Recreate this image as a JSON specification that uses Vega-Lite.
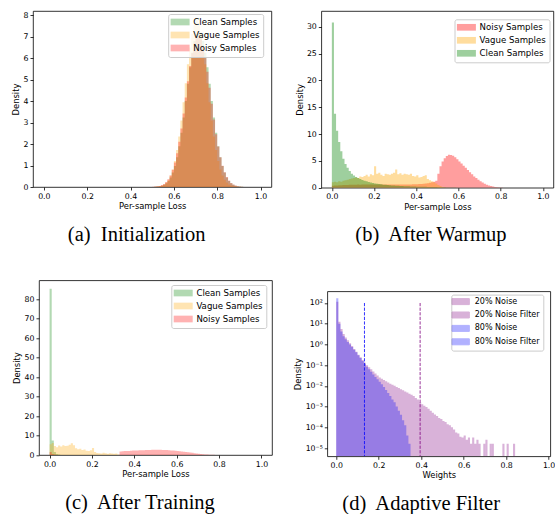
{
"$schema":"https://vega.github.io/schema/vega-lite/v6.json",
"background":"white",
"padding":{"left":11,"top":10,"right":0,"bottom":0},
"config":{
 "font":"DejaVu Sans",
 "view":{"stroke":"black","strokeWidth":0.8},
 "axis":{"domain":false,"grid":false,"tickSize":3,"tickWidth":0.8,"tickColor":"black","labelColor":"black","labelFont":"DejaVu Sans","labelFontSize":7.8,"labelPadding":2,"titleFont":"DejaVu Sans","titleFontSize":8.4,"titleFontWeight":"normal","titleColor":"black"},
 "legend":{"title":null,"orient":"none","labelFont":"DejaVu Sans","labelColor":"black","labelLimit":300,"fillColor":"rgba(255,255,255,0.8)","strokeColor":"#cccccc","cornerRadius":2,"symbolType":"M-2.883,-1H2.883V1H-2.883Z"},
 "title":{"font":"Liberation Serif","fontSize":20.5,"fontWeight":"normal","color":"black"}
},
"datasets":{
"a":[
{"s":"Clean Samples","x":0.50,"d":0.005},{"s":"Clean Samples","x":0.51,"d":0.01},{"s":"Clean Samples","x":0.52,"d":0.02},{"s":"Clean Samples","x":0.53,"d":0.03},{"s":"Clean Samples","x":0.54,"d":0.06},{"s":"Clean Samples","x":0.55,"d":0.11},{"s":"Clean Samples","x":0.56,"d":0.18},{"s":"Clean Samples","x":0.57,"d":0.28},{"s":"Clean Samples","x":0.58,"d":0.44},{"s":"Clean Samples","x":0.59,"d":0.67},{"s":"Clean Samples","x":0.60,"d":0.98},{"s":"Clean Samples","x":0.61,"d":1.39},{"s":"Clean Samples","x":0.62,"d":1.9},{"s":"Clean Samples","x":0.63,"d":2.52},{"s":"Clean Samples","x":0.64,"d":3.23},{"s":"Clean Samples","x":0.65,"d":4.0},{"s":"Clean Samples","x":0.66,"d":4.8},{"s":"Clean Samples","x":0.67,"d":5.57},{"s":"Clean Samples","x":0.68,"d":6.25},{"s":"Clean Samples","x":0.69,"d":6.79},{"s":"Clean Samples","x":0.70,"d":7.13},{"s":"Clean Samples","x":0.71,"d":7.25},{"s":"Clean Samples","x":0.72,"d":7.13},{"s":"Clean Samples","x":0.73,"d":6.79},{"s":"Clean Samples","x":0.74,"d":6.25},{"s":"Clean Samples","x":0.75,"d":5.57},{"s":"Clean Samples","x":0.76,"d":4.8},{"s":"Clean Samples","x":0.77,"d":4.0},{"s":"Clean Samples","x":0.78,"d":3.23},{"s":"Clean Samples","x":0.79,"d":2.52},{"s":"Clean Samples","x":0.80,"d":1.9},{"s":"Clean Samples","x":0.81,"d":1.39},{"s":"Clean Samples","x":0.82,"d":0.98},{"s":"Clean Samples","x":0.83,"d":0.67},{"s":"Clean Samples","x":0.84,"d":0.44},{"s":"Clean Samples","x":0.85,"d":0.28},{"s":"Clean Samples","x":0.86,"d":0.18},{"s":"Clean Samples","x":0.87,"d":0.11},{"s":"Clean Samples","x":0.88,"d":0.06},{"s":"Clean Samples","x":0.89,"d":0.03},{"s":"Clean Samples","x":0.90,"d":0.02},{"s":"Clean Samples","x":0.91,"d":0.01},{"s":"Clean Samples","x":0.92,"d":0},
{"s":"Vague Samples","x":0.50,"d":0.005},{"s":"Vague Samples","x":0.51,"d":0.01},{"s":"Vague Samples","x":0.52,"d":0.02},{"s":"Vague Samples","x":0.53,"d":0.04},{"s":"Vague Samples","x":0.54,"d":0.07},{"s":"Vague Samples","x":0.55,"d":0.12},{"s":"Vague Samples","x":0.56,"d":0.21},{"s":"Vague Samples","x":0.57,"d":0.34},{"s":"Vague Samples","x":0.58,"d":0.54},{"s":"Vague Samples","x":0.59,"d":0.82},{"s":"Vague Samples","x":0.60,"d":1.21},{"s":"Vague Samples","x":0.61,"d":1.72},{"s":"Vague Samples","x":0.62,"d":2.35},{"s":"Vague Samples","x":0.63,"d":3.1},{"s":"Vague Samples","x":0.64,"d":3.94},{"s":"Vague Samples","x":0.65,"d":4.83},{"s":"Vague Samples","x":0.66,"d":5.71},{"s":"Vague Samples","x":0.67,"d":6.49},{"s":"Vague Samples","x":0.68,"d":7.12},{"s":"Vague Samples","x":0.69,"d":7.53},{"s":"Vague Samples","x":0.70,"d":7.8},{"s":"Vague Samples","x":0.71,"d":7.53},{"s":"Vague Samples","x":0.72,"d":7.12},{"s":"Vague Samples","x":0.73,"d":6.49},{"s":"Vague Samples","x":0.74,"d":5.71},{"s":"Vague Samples","x":0.75,"d":4.83},{"s":"Vague Samples","x":0.76,"d":3.94},{"s":"Vague Samples","x":0.77,"d":3.1},{"s":"Vague Samples","x":0.78,"d":2.35},{"s":"Vague Samples","x":0.79,"d":1.72},{"s":"Vague Samples","x":0.80,"d":1.21},{"s":"Vague Samples","x":0.81,"d":0.82},{"s":"Vague Samples","x":0.82,"d":0.54},{"s":"Vague Samples","x":0.83,"d":0.34},{"s":"Vague Samples","x":0.84,"d":0.21},{"s":"Vague Samples","x":0.85,"d":0.12},{"s":"Vague Samples","x":0.86,"d":0.07},{"s":"Vague Samples","x":0.87,"d":0.04},{"s":"Vague Samples","x":0.88,"d":0.02},{"s":"Vague Samples","x":0.89,"d":0.01},{"s":"Vague Samples","x":0.90,"d":0.005},{"s":"Vague Samples","x":0.91,"d":0},
{"s":"Noisy Samples","x":0.50,"d":0.01},{"s":"Noisy Samples","x":0.51,"d":0.02},{"s":"Noisy Samples","x":0.52,"d":0.03},{"s":"Noisy Samples","x":0.53,"d":0.05},{"s":"Noisy Samples","x":0.54,"d":0.09},{"s":"Noisy Samples","x":0.55,"d":0.14},{"s":"Noisy Samples","x":0.56,"d":0.23},{"s":"Noisy Samples","x":0.57,"d":0.36},{"s":"Noisy Samples","x":0.58,"d":0.54},{"s":"Noisy Samples","x":0.59,"d":0.8},{"s":"Noisy Samples","x":0.60,"d":1.14},{"s":"Noisy Samples","x":0.61,"d":1.57},{"s":"Noisy Samples","x":0.62,"d":2.1},{"s":"Noisy Samples","x":0.63,"d":2.72},{"s":"Noisy Samples","x":0.64,"d":3.42},{"s":"Noisy Samples","x":0.65,"d":4.17},{"s":"Noisy Samples","x":0.66,"d":4.92},{"s":"Noisy Samples","x":0.67,"d":5.63},{"s":"Noisy Samples","x":0.68,"d":6.24},{"s":"Noisy Samples","x":0.69,"d":6.71},{"s":"Noisy Samples","x":0.70,"d":6.99},{"s":"Noisy Samples","x":0.71,"d":7.06},{"s":"Noisy Samples","x":0.72,"d":6.9},{"s":"Noisy Samples","x":0.73,"d":6.55},{"s":"Noisy Samples","x":0.74,"d":6.02},{"s":"Noisy Samples","x":0.75,"d":5.36},{"s":"Noisy Samples","x":0.76,"d":4.62},{"s":"Noisy Samples","x":0.77,"d":3.87},{"s":"Noisy Samples","x":0.78,"d":3.14},{"s":"Noisy Samples","x":0.79,"d":2.46},{"s":"Noisy Samples","x":0.80,"d":1.88},{"s":"Noisy Samples","x":0.81,"d":1.39},{"s":"Noisy Samples","x":0.82,"d":0.99},{"s":"Noisy Samples","x":0.83,"d":0.69},{"s":"Noisy Samples","x":0.84,"d":0.46},{"s":"Noisy Samples","x":0.85,"d":0.3},{"s":"Noisy Samples","x":0.86,"d":0.19},{"s":"Noisy Samples","x":0.87,"d":0.12},{"s":"Noisy Samples","x":0.88,"d":0.07},{"s":"Noisy Samples","x":0.89,"d":0.04},{"s":"Noisy Samples","x":0.90,"d":0.02},{"s":"Noisy Samples","x":0.91,"d":0.01},{"s":"Noisy Samples","x":0.92,"d":0}
],
"b":[
{"s":"Noisy Samples","x":0.00,"d":0.35},{"s":"Noisy Samples","x":0.01,"d":0.4},{"s":"Noisy Samples","x":0.02,"d":0.4},{"s":"Noisy Samples","x":0.03,"d":0.45},{"s":"Noisy Samples","x":0.04,"d":0.45},{"s":"Noisy Samples","x":0.05,"d":0.5},{"s":"Noisy Samples","x":0.06,"d":0.5},{"s":"Noisy Samples","x":0.07,"d":0.5},{"s":"Noisy Samples","x":0.08,"d":0.55},{"s":"Noisy Samples","x":0.09,"d":0.55},{"s":"Noisy Samples","x":0.10,"d":0.55},{"s":"Noisy Samples","x":0.11,"d":0.55},{"s":"Noisy Samples","x":0.12,"d":0.6},{"s":"Noisy Samples","x":0.13,"d":0.55},{"s":"Noisy Samples","x":0.14,"d":0.6},{"s":"Noisy Samples","x":0.15,"d":0.6},{"s":"Noisy Samples","x":0.16,"d":0.6},{"s":"Noisy Samples","x":0.17,"d":0.6},{"s":"Noisy Samples","x":0.18,"d":0.6},{"s":"Noisy Samples","x":0.19,"d":0.6},{"s":"Noisy Samples","x":0.20,"d":0.6},{"s":"Noisy Samples","x":0.21,"d":0.6},{"s":"Noisy Samples","x":0.22,"d":0.6},{"s":"Noisy Samples","x":0.23,"d":0.6},{"s":"Noisy Samples","x":0.24,"d":0.6},{"s":"Noisy Samples","x":0.25,"d":0.6},{"s":"Noisy Samples","x":0.26,"d":0.6},{"s":"Noisy Samples","x":0.27,"d":0.6},{"s":"Noisy Samples","x":0.28,"d":0.6},{"s":"Noisy Samples","x":0.29,"d":0.6},{"s":"Noisy Samples","x":0.30,"d":0.6},{"s":"Noisy Samples","x":0.31,"d":0.6},{"s":"Noisy Samples","x":0.32,"d":0.6},{"s":"Noisy Samples","x":0.33,"d":0.6},{"s":"Noisy Samples","x":0.34,"d":0.6},{"s":"Noisy Samples","x":0.35,"d":0.6},{"s":"Noisy Samples","x":0.36,"d":0.6},{"s":"Noisy Samples","x":0.37,"d":0.6},{"s":"Noisy Samples","x":0.38,"d":0.65},{"s":"Noisy Samples","x":0.39,"d":0.65},{"s":"Noisy Samples","x":0.40,"d":0.65},{"s":"Noisy Samples","x":0.41,"d":0.7},{"s":"Noisy Samples","x":0.42,"d":0.7},{"s":"Noisy Samples","x":0.43,"d":0.75},{"s":"Noisy Samples","x":0.44,"d":0.8},{"s":"Noisy Samples","x":0.45,"d":0.85},{"s":"Noisy Samples","x":0.46,"d":0.9},{"s":"Noisy Samples","x":0.47,"d":1.0},{"s":"Noisy Samples","x":0.48,"d":1.1},{"s":"Noisy Samples","x":0.49,"d":1.3},{"s":"Noisy Samples","x":0.50,"d":2.6},{"s":"Noisy Samples","x":0.51,"d":4.0},{"s":"Noisy Samples","x":0.52,"d":4.9},{"s":"Noisy Samples","x":0.53,"d":5.5},{"s":"Noisy Samples","x":0.54,"d":5.9},{"s":"Noisy Samples","x":0.55,"d":6.15},{"s":"Noisy Samples","x":0.56,"d":6.1},{"s":"Noisy Samples","x":0.57,"d":5.95},{"s":"Noisy Samples","x":0.58,"d":5.65},{"s":"Noisy Samples","x":0.59,"d":5.3},{"s":"Noisy Samples","x":0.60,"d":4.9},{"s":"Noisy Samples","x":0.61,"d":4.5},{"s":"Noisy Samples","x":0.62,"d":4.1},{"s":"Noisy Samples","x":0.63,"d":3.7},{"s":"Noisy Samples","x":0.64,"d":3.3},{"s":"Noisy Samples","x":0.65,"d":2.9},{"s":"Noisy Samples","x":0.66,"d":2.5},{"s":"Noisy Samples","x":0.67,"d":2.1},{"s":"Noisy Samples","x":0.68,"d":1.8},{"s":"Noisy Samples","x":0.69,"d":1.5},{"s":"Noisy Samples","x":0.70,"d":1.2},{"s":"Noisy Samples","x":0.71,"d":0.95},{"s":"Noisy Samples","x":0.72,"d":0.75},{"s":"Noisy Samples","x":0.73,"d":0.57},{"s":"Noisy Samples","x":0.74,"d":0.42},{"s":"Noisy Samples","x":0.75,"d":0.3},{"s":"Noisy Samples","x":0.76,"d":0.21},{"s":"Noisy Samples","x":0.77,"d":0.14},{"s":"Noisy Samples","x":0.78,"d":0.09},{"s":"Noisy Samples","x":0.79,"d":0.05},{"s":"Noisy Samples","x":0.80,"d":0.03},{"s":"Noisy Samples","x":0.81,"d":0},
{"s":"Vague Samples","x":0.00,"d":1.0},{"s":"Vague Samples","x":0.01,"d":1.1},{"s":"Vague Samples","x":0.02,"d":1.0},{"s":"Vague Samples","x":0.03,"d":1.2},{"s":"Vague Samples","x":0.04,"d":1.1},{"s":"Vague Samples","x":0.05,"d":1.3},{"s":"Vague Samples","x":0.06,"d":1.4},{"s":"Vague Samples","x":0.07,"d":1.5},{"s":"Vague Samples","x":0.08,"d":1.6},{"s":"Vague Samples","x":0.09,"d":1.7},{"s":"Vague Samples","x":0.10,"d":1.8},{"s":"Vague Samples","x":0.11,"d":1.9},{"s":"Vague Samples","x":0.12,"d":1.8},{"s":"Vague Samples","x":0.13,"d":2.1},{"s":"Vague Samples","x":0.14,"d":2.0},{"s":"Vague Samples","x":0.15,"d":2.2},{"s":"Vague Samples","x":0.16,"d":2.4},{"s":"Vague Samples","x":0.17,"d":2.1},{"s":"Vague Samples","x":0.18,"d":2.5},{"s":"Vague Samples","x":0.19,"d":2.3},{"s":"Vague Samples","x":0.20,"d":4.0},{"s":"Vague Samples","x":0.21,"d":2.6},{"s":"Vague Samples","x":0.22,"d":2.8},{"s":"Vague Samples","x":0.23,"d":2.4},{"s":"Vague Samples","x":0.24,"d":2.2},{"s":"Vague Samples","x":0.25,"d":2.6},{"s":"Vague Samples","x":0.26,"d":2.5},{"s":"Vague Samples","x":0.27,"d":2.4},{"s":"Vague Samples","x":0.28,"d":2.6},{"s":"Vague Samples","x":0.29,"d":2.8},{"s":"Vague Samples","x":0.30,"d":3.4},{"s":"Vague Samples","x":0.31,"d":2.5},{"s":"Vague Samples","x":0.32,"d":2.7},{"s":"Vague Samples","x":0.33,"d":2.4},{"s":"Vague Samples","x":0.34,"d":2.6},{"s":"Vague Samples","x":0.35,"d":2.5},{"s":"Vague Samples","x":0.36,"d":2.4},{"s":"Vague Samples","x":0.37,"d":2.6},{"s":"Vague Samples","x":0.38,"d":2.2},{"s":"Vague Samples","x":0.39,"d":2.1},{"s":"Vague Samples","x":0.40,"d":2.3},{"s":"Vague Samples","x":0.41,"d":1.9},{"s":"Vague Samples","x":0.42,"d":2.0},{"s":"Vague Samples","x":0.43,"d":2.2},{"s":"Vague Samples","x":0.44,"d":2.3},{"s":"Vague Samples","x":0.45,"d":1.6},{"s":"Vague Samples","x":0.46,"d":1.4},{"s":"Vague Samples","x":0.47,"d":1.2},{"s":"Vague Samples","x":0.48,"d":1.0},{"s":"Vague Samples","x":0.49,"d":0.8},{"s":"Vague Samples","x":0.50,"d":0.5},{"s":"Vague Samples","x":0.51,"d":0.3},{"s":"Vague Samples","x":0.52,"d":0.15},{"s":"Vague Samples","x":0.53,"d":0.05},{"s":"Vague Samples","x":0.54,"d":0},
{"s":"Clean Samples","x":0.00,"d":30.8},{"s":"Clean Samples","x":0.01,"d":13.8},{"s":"Clean Samples","x":0.02,"d":10.6},{"s":"Clean Samples","x":0.03,"d":8.5},{"s":"Clean Samples","x":0.04,"d":6.8},{"s":"Clean Samples","x":0.05,"d":5.4},{"s":"Clean Samples","x":0.06,"d":4.4},{"s":"Clean Samples","x":0.07,"d":3.7},{"s":"Clean Samples","x":0.08,"d":3.1},{"s":"Clean Samples","x":0.09,"d":2.6},{"s":"Clean Samples","x":0.10,"d":2.25},{"s":"Clean Samples","x":0.11,"d":2.0},{"s":"Clean Samples","x":0.12,"d":1.8},{"s":"Clean Samples","x":0.13,"d":1.6},{"s":"Clean Samples","x":0.14,"d":1.45},{"s":"Clean Samples","x":0.15,"d":1.3},{"s":"Clean Samples","x":0.16,"d":1.18},{"s":"Clean Samples","x":0.17,"d":1.07},{"s":"Clean Samples","x":0.18,"d":0.97},{"s":"Clean Samples","x":0.19,"d":0.88},{"s":"Clean Samples","x":0.20,"d":0.8},{"s":"Clean Samples","x":0.21,"d":0.73},{"s":"Clean Samples","x":0.22,"d":0.67},{"s":"Clean Samples","x":0.23,"d":0.62},{"s":"Clean Samples","x":0.24,"d":0.57},{"s":"Clean Samples","x":0.25,"d":0.53},{"s":"Clean Samples","x":0.26,"d":0.49},{"s":"Clean Samples","x":0.27,"d":0.46},{"s":"Clean Samples","x":0.28,"d":0.43},{"s":"Clean Samples","x":0.29,"d":0.4},{"s":"Clean Samples","x":0.30,"d":0.37},{"s":"Clean Samples","x":0.31,"d":0.35},{"s":"Clean Samples","x":0.32,"d":0.33},{"s":"Clean Samples","x":0.33,"d":0.31},{"s":"Clean Samples","x":0.34,"d":0.29},{"s":"Clean Samples","x":0.35,"d":0.27},{"s":"Clean Samples","x":0.36,"d":0.25},{"s":"Clean Samples","x":0.37,"d":0.24},{"s":"Clean Samples","x":0.38,"d":0.22},{"s":"Clean Samples","x":0.39,"d":0.21},{"s":"Clean Samples","x":0.40,"d":0.2},{"s":"Clean Samples","x":0.41,"d":0.19},{"s":"Clean Samples","x":0.42,"d":0.18},{"s":"Clean Samples","x":0.43,"d":0.17},{"s":"Clean Samples","x":0.44,"d":0.16},{"s":"Clean Samples","x":0.45,"d":0.15},{"s":"Clean Samples","x":0.46,"d":0.14},{"s":"Clean Samples","x":0.47,"d":0.13},{"s":"Clean Samples","x":0.48,"d":0.12},{"s":"Clean Samples","x":0.49,"d":0.11},{"s":"Clean Samples","x":0.50,"d":0.1},{"s":"Clean Samples","x":0.51,"d":0.09},{"s":"Clean Samples","x":0.52,"d":0.08},{"s":"Clean Samples","x":0.53,"d":0.07},{"s":"Clean Samples","x":0.54,"d":0.06},{"s":"Clean Samples","x":0.55,"d":0.05},{"s":"Clean Samples","x":0.56,"d":0.04},{"s":"Clean Samples","x":0.57,"d":0.03},{"s":"Clean Samples","x":0.58,"d":0.02},{"s":"Clean Samples","x":0.59,"d":0}
],
"c":[
{"s":"Clean Samples","x":0.00,"d":85.3},{"s":"Clean Samples","x":0.01,"d":7.5},{"s":"Clean Samples","x":0.02,"d":1.5},{"s":"Clean Samples","x":0.03,"d":0.5},{"s":"Clean Samples","x":0.04,"d":0.2},{"s":"Clean Samples","x":0.05,"d":0},
{"s":"Vague Samples","x":0.00,"d":5.5},{"s":"Vague Samples","x":0.01,"d":6.2},{"s":"Vague Samples","x":0.02,"d":4.6},{"s":"Vague Samples","x":0.03,"d":4.0},{"s":"Vague Samples","x":0.04,"d":4.9},{"s":"Vague Samples","x":0.05,"d":4.3},{"s":"Vague Samples","x":0.06,"d":5.0},{"s":"Vague Samples","x":0.07,"d":4.6},{"s":"Vague Samples","x":0.08,"d":4.8},{"s":"Vague Samples","x":0.09,"d":5.2},{"s":"Vague Samples","x":0.10,"d":6.0},{"s":"Vague Samples","x":0.11,"d":5.0},{"s":"Vague Samples","x":0.12,"d":3.4},{"s":"Vague Samples","x":0.13,"d":3.0},{"s":"Vague Samples","x":0.14,"d":3.2},{"s":"Vague Samples","x":0.15,"d":2.6},{"s":"Vague Samples","x":0.16,"d":2.8},{"s":"Vague Samples","x":0.17,"d":2.2},{"s":"Vague Samples","x":0.18,"d":2.0},{"s":"Vague Samples","x":0.19,"d":2.4},{"s":"Vague Samples","x":0.20,"d":3.6},{"s":"Vague Samples","x":0.21,"d":1.6},{"s":"Vague Samples","x":0.22,"d":1.0},{"s":"Vague Samples","x":0.23,"d":0.9},{"s":"Vague Samples","x":0.24,"d":0.8},{"s":"Vague Samples","x":0.25,"d":1.1},{"s":"Vague Samples","x":0.26,"d":0.9},{"s":"Vague Samples","x":0.27,"d":0.7},{"s":"Vague Samples","x":0.28,"d":0.9},{"s":"Vague Samples","x":0.29,"d":0.8},{"s":"Vague Samples","x":0.30,"d":0.7},{"s":"Vague Samples","x":0.31,"d":0.8},{"s":"Vague Samples","x":0.32,"d":0.3},{"s":"Vague Samples","x":0.33,"d":0},
{"s":"Noisy Samples","x":0.00,"d":1.5},{"s":"Noisy Samples","x":0.01,"d":0.5},{"s":"Noisy Samples","x":0.02,"d":0.2},{"s":"Noisy Samples","x":0.03,"d":0},{"s":"Noisy Samples","x":0.33,"d":1.8},{"s":"Noisy Samples","x":0.34,"d":1.9},{"s":"Noisy Samples","x":0.35,"d":2.0},{"s":"Noisy Samples","x":0.36,"d":2.05},{"s":"Noisy Samples","x":0.37,"d":2.1},{"s":"Noisy Samples","x":0.38,"d":2.2},{"s":"Noisy Samples","x":0.39,"d":2.25},{"s":"Noisy Samples","x":0.40,"d":2.3},{"s":"Noisy Samples","x":0.41,"d":2.35},{"s":"Noisy Samples","x":0.42,"d":2.4},{"s":"Noisy Samples","x":0.43,"d":2.45},{"s":"Noisy Samples","x":0.44,"d":2.5},{"s":"Noisy Samples","x":0.45,"d":2.55},{"s":"Noisy Samples","x":0.46,"d":2.6},{"s":"Noisy Samples","x":0.47,"d":2.62},{"s":"Noisy Samples","x":0.48,"d":2.65},{"s":"Noisy Samples","x":0.49,"d":2.67},{"s":"Noisy Samples","x":0.50,"d":2.68},{"s":"Noisy Samples","x":0.51,"d":2.67},{"s":"Noisy Samples","x":0.52,"d":2.65},{"s":"Noisy Samples","x":0.53,"d":2.62},{"s":"Noisy Samples","x":0.54,"d":2.58},{"s":"Noisy Samples","x":0.55,"d":2.52},{"s":"Noisy Samples","x":0.56,"d":2.45},{"s":"Noisy Samples","x":0.57,"d":2.37},{"s":"Noisy Samples","x":0.58,"d":2.28},{"s":"Noisy Samples","x":0.59,"d":2.18},{"s":"Noisy Samples","x":0.60,"d":2.07},{"s":"Noisy Samples","x":0.61,"d":1.95},{"s":"Noisy Samples","x":0.62,"d":1.82},{"s":"Noisy Samples","x":0.63,"d":1.68},{"s":"Noisy Samples","x":0.64,"d":1.54},{"s":"Noisy Samples","x":0.65,"d":1.4},{"s":"Noisy Samples","x":0.66,"d":1.25},{"s":"Noisy Samples","x":0.67,"d":1.1},{"s":"Noisy Samples","x":0.68,"d":0.95},{"s":"Noisy Samples","x":0.69,"d":0.8},{"s":"Noisy Samples","x":0.70,"d":0.66},{"s":"Noisy Samples","x":0.71,"d":0.53},{"s":"Noisy Samples","x":0.72,"d":0.42},{"s":"Noisy Samples","x":0.73,"d":0.32},{"s":"Noisy Samples","x":0.74,"d":0.24},{"s":"Noisy Samples","x":0.75,"d":0.17},{"s":"Noisy Samples","x":0.76,"d":0.11},{"s":"Noisy Samples","x":0.77,"d":0.07},{"s":"Noisy Samples","x":0.78,"d":0.04},{"s":"Noisy Samples","x":0.79,"d":0.02},{"s":"Noisy Samples","x":0.80,"d":0}
],
"d":[
{"s":"20% Noise","x":0.00,"d":115},{"s":"20% Noise","x":0.01,"d":12.6},{"s":"20% Noise","x":0.02,"d":5.6},{"s":"20% Noise","x":0.03,"d":3.16},{"s":"20% Noise","x":0.04,"d":2.14},{"s":"20% Noise","x":0.05,"d":1.58},{"s":"20% Noise","x":0.06,"d":1.15},{"s":"20% Noise","x":0.07,"d":0.83},{"s":"20% Noise","x":0.08,"d":0.6},{"s":"20% Noise","x":0.09,"d":0.44},{"s":"20% Noise","x":0.10,"d":0.316},{"s":"20% Noise","x":0.11,"d":0.24},{"s":"20% Noise","x":0.12,"d":0.178},{"s":"20% Noise","x":0.13,"d":0.132},{"s":"20% Noise","x":0.14,"d":0.1},{"s":"20% Noise","x":0.15,"d":0.079},{"s":"20% Noise","x":0.16,"d":0.063},{"s":"20% Noise","x":0.17,"d":0.05},{"s":"20% Noise","x":0.18,"d":0.04},{"s":"20% Noise","x":0.19,"d":0.0316},{"s":"20% Noise","x":0.20,"d":0.0251},{"s":"20% Noise","x":0.21,"d":0.0219},{"s":"20% Noise","x":0.22,"d":0.0191},{"s":"20% Noise","x":0.23,"d":0.0166},{"s":"20% Noise","x":0.24,"d":0.0145},{"s":"20% Noise","x":0.25,"d":0.0126},{"s":"20% Noise","x":0.26,"d":0.0112},{"s":"20% Noise","x":0.27,"d":0.01},{"s":"20% Noise","x":0.28,"d":0.0087},{"s":"20% Noise","x":0.29,"d":0.0078},{"s":"20% Noise","x":0.30,"d":0.0069},{"s":"20% Noise","x":0.31,"d":0.0062},{"s":"20% Noise","x":0.32,"d":0.0054},{"s":"20% Noise","x":0.33,"d":0.0048},{"s":"20% Noise","x":0.34,"d":0.0042},{"s":"20% Noise","x":0.35,"d":0.0037},{"s":"20% Noise","x":0.36,"d":0.0032},{"s":"20% Noise","x":0.37,"d":0.0026},{"s":"20% Noise","x":0.38,"d":0.0022},{"s":"20% Noise","x":0.39,"d":0.0016},{"s":"20% Noise","x":0.40,"d":0.0013},{"s":"20% Noise","x":0.41,"d":0.0011},{"s":"20% Noise","x":0.42,"d":0.00095},{"s":"20% Noise","x":0.43,"d":0.00079},{"s":"20% Noise","x":0.44,"d":0.00063},{"s":"20% Noise","x":0.45,"d":0.0005},{"s":"20% Noise","x":0.46,"d":0.00042},{"s":"20% Noise","x":0.47,"d":0.00035},{"s":"20% Noise","x":0.48,"d":0.00028},{"s":"20% Noise","x":0.49,"d":0.00025},{"s":"20% Noise","x":0.50,"d":0.0002},{"s":"20% Noise","x":0.51,"d":0.000178},{"s":"20% Noise","x":0.52,"d":0.000141},{"s":"20% Noise","x":0.53,"d":0.000126},{"s":"20% Noise","x":0.54,"d":0.0001},{"s":"20% Noise","x":0.55,"d":0.000079},{"s":"20% Noise","x":0.56,"d":0.000056},{"s":"20% Noise","x":0.57,"d":0.00005},{"s":"20% Noise","x":0.58,"d":0.000035},{"s":"20% Noise","x":0.59,"d":0.000032},{"s":"20% Noise","x":0.60,"d":0.00004},{"s":"20% Noise","x":0.61,"d":0.000025},{"s":"20% Noise","x":0.62,"d":0.000032},{"s":"20% Noise","x":0.63,"d":0.000016},{"s":"20% Noise","x":0.64,"d":0.000032},{"s":"20% Noise","x":0.65,"d":0.000016},{"s":"20% Noise","x":0.66,"d":0.000025},{"s":"20% Noise","x":0.67,"d":0.000016},{"s":"20% Noise","x":0.68,"d":0.000016},
{"s":"80% Noise","x":0.00,"d":170},{"s":"80% Noise","x":0.01,"d":10},{"s":"80% Noise","x":0.02,"d":4.2},{"s":"80% Noise","x":0.03,"d":2.5},{"s":"80% Noise","x":0.04,"d":1.78},{"s":"80% Noise","x":0.05,"d":1.32},{"s":"80% Noise","x":0.06,"d":1.0},{"s":"80% Noise","x":0.07,"d":0.76},{"s":"80% Noise","x":0.08,"d":0.56},{"s":"80% Noise","x":0.09,"d":0.42},{"s":"80% Noise","x":0.10,"d":0.3},{"s":"80% Noise","x":0.11,"d":0.22},{"s":"80% Noise","x":0.12,"d":0.158},{"s":"80% Noise","x":0.13,"d":0.112},{"s":"80% Noise","x":0.14,"d":0.083},{"s":"80% Noise","x":0.15,"d":0.063},{"s":"80% Noise","x":0.16,"d":0.048},{"s":"80% Noise","x":0.17,"d":0.035},{"s":"80% Noise","x":0.18,"d":0.027},{"s":"80% Noise","x":0.19,"d":0.021},{"s":"80% Noise","x":0.20,"d":0.0158},{"s":"80% Noise","x":0.21,"d":0.012},{"s":"80% Noise","x":0.22,"d":0.0089},{"s":"80% Noise","x":0.23,"d":0.0063},{"s":"80% Noise","x":0.24,"d":0.0045},{"s":"80% Noise","x":0.25,"d":0.0032},{"s":"80% Noise","x":0.26,"d":0.0022},{"s":"80% Noise","x":0.27,"d":0.0016},{"s":"80% Noise","x":0.28,"d":0.001},{"s":"80% Noise","x":0.29,"d":0.00063},{"s":"80% Noise","x":0.30,"d":0.0004},{"s":"80% Noise","x":0.31,"d":0.00022},{"s":"80% Noise","x":0.32,"d":0.000126},{"s":"80% Noise","x":0.33,"d":0.00004},{"s":"80% Noise","x":0.34,"d":0.000016},{"s":"80% Noise","x":0.35,"d":0.000016}
],
"dt":[
{"s":"20% Noise","b":0.69,"e":0.70,"d":0.000016},{"s":"20% Noise","b":0.70,"e":0.71,"d":0.000025},{"s":"20% Noise","b":0.72,"e":0.73,"d":0.000016},{"s":"20% Noise","b":0.73,"e":0.74,"d":0.000016},{"s":"20% Noise","b":0.78,"e":0.79,"d":0.000016},{"s":"20% Noise","b":0.80,"e":0.81,"d":0.000016},{"s":"20% Noise","b":0.83,"e":0.84,"d":0.000016}
],
"dr":[
{"s":"20% Noise Filter","x":0.395,"hi":100},{"s":"80% Noise Filter","x":0.133,"hi":100}
]
},
"spacing":20.3,
"resolve":{"scale":{"color":"independent"},"legend":{"color":"independent"}},
"hconcat":[
{
 "vconcat":[
  {
   "width":238.4,"height":176,
   "data":{"name":"a"},
   "mark":{"type":"area","interpolate":"step-after","opacity":0.3,"clip":true},
   "encoding":{
    "x":{"field":"x","type":"quantitative","scale":{"domain":[-0.05,1.05],"nice":false,"zero":false},"axis":{"values":[0,0.2,0.4,0.6,0.8,1],"format":".1f","title":"Per-sample Loss","titlePadding":2}},
    "y":{"field":"d","type":"quantitative","stack":null,"scale":{"domain":[0,8.19],"nice":false},"axis":{"values":[0,1,2,3,4,5,6,7,8],"title":"Density","titlePadding":2.3}},
    "color":{"field":"s","type":"nominal","scale":{"domain":["Clean Samples","Vague Samples","Noisy Samples"],"range":["#008000","#ffa500","#ff0000"]},
     "legend":{"legendX":135.2,"legendY":3,"symbolType":"M-2.836,-1H2.836V1H-2.836Z","symbolSize":44.9,"symbolStrokeWidth":0,"symbolOffset":3.9,"labelOffset":8.9,"labelFontSize":8.6,"rowPadding":4,"padding":3.7,"symbolOpacity":0.3}}
   },
   "title":{"text":"(a)\u00a0 Initialization","orient":"bottom","anchor":"middle","frame":"group","baseline":"alphabetic","offset":30.5,"dx":-15.5}
  },
  {
   "hconcat":[
    {"data":{"values":[]},"mark":{"type":"point","opacity":0},"width":5.2,"height":174.7,"view":{"stroke":null}},
    {
     "width":233,"height":174.7,
     "data":{"name":"c"},
     "mark":{"type":"area","interpolate":"step-after","opacity":0.3,"clip":true},
     "encoding":{
      "x":{"field":"x","type":"quantitative","scale":{"domain":[-0.05,1.05],"nice":false,"zero":false},"axis":{"values":[0,0.2,0.4,0.6,0.8,1],"format":".1f","title":"Per-sample Loss","titlePadding":2}},
      "y":{"field":"d","type":"quantitative","stack":null,"scale":{"domain":[0,89.6],"nice":false},"axis":{"values":[0,10,20,30,40,50,60,70,80],"title":"Density","titlePadding":2.5}},
      "color":{"field":"s","type":"nominal","scale":{"domain":["Clean Samples","Vague Samples","Noisy Samples"],"range":["#008000","#ffa500","#ff0000"]},
       "legend":{"legendX":132.3,"legendY":4.7,"symbolType":"M-2.836,-1H2.836V1H-2.836Z","symbolSize":44.9,"symbolStrokeWidth":0,"symbolOffset":3.9,"labelOffset":8.9,"labelFontSize":8.6,"rowPadding":4,"padding":3.7,"symbolOpacity":0.3}}
     },
     "title":{"text":"(c)\u00a0 After Training","orient":"bottom","anchor":"middle","frame":"group","baseline":"alphabetic","offset":31,"dx":-15.5}
    }
   ],
   "spacing":0,"bounds":"flush",
   "resolve":{"scale":{"color":"independent"},"legend":{"color":"independent"}}
  }
 ],
 "spacing":93.3,"bounds":"flush",
 "resolve":{"scale":{"color":"independent"},"legend":{"color":"independent"}}
},
{
 "vconcat":[
  {
   "width":232.1,"height":176.7,
   "data":{"name":"b"},
   "mark":{"type":"area","interpolate":"step-after","opacity":0.38,"clip":true},
   "encoding":{
    "x":{"field":"x","type":"quantitative","scale":{"domain":[-0.05,1.05],"nice":false,"zero":false},"axis":{"values":[0,0.2,0.4,0.6,0.8,1],"format":".1f","title":"Per-sample Loss","titlePadding":2}},
    "y":{"field":"d","type":"quantitative","stack":null,"scale":{"domain":[0,32.92],"nice":false},"axis":{"values":[0,5,10,15,20,25,30],"title":"Density","titlePadding":2}},
    "color":{"field":"s","type":"nominal","scale":{"domain":["Noisy Samples","Vague Samples","Clean Samples"],"range":["#ff0000","#ffa500","#008000"]},
     "legend":{"legendX":133.2,"legendY":8.3,"symbolType":"M-2.836,-1H2.836V1H-2.836Z","symbolSize":44.9,"symbolStrokeWidth":0,"symbolOffset":3.9,"labelOffset":8.9,"labelFontSize":8.6,"rowPadding":4,"padding":3.7,"symbolOpacity":0.38}}
   },
   "title":{"text":"(b)\u00a0 After Warmup","orient":"bottom","anchor":"middle","frame":"group","baseline":"alphabetic","offset":30.5,"dx":-6.5}
  },
  {
   "hconcat":[
    {"data":{"values":[]},"mark":{"type":"point","opacity":0},"width":5.8,"height":165,"view":{"stroke":null}},
    {
     "width":223,"height":165,
     "layer":[
      {
       "data":{"name":"d"},
       "mark":{"type":"area","interpolate":"step-after","opacity":0.3,"clip":true},
       "encoding":{
        "x":{"field":"x","type":"quantitative","scale":{"domain":[-0.042,1.008],"nice":false,"zero":false},"axis":{"values":[0,0.2,0.4,0.6,0.8,1],"format":".1f","title":"Weights","titlePadding":1}},
        "y":{"field":"d","type":"quantitative","stack":null,"scale":{"type":"log","domain":[3.98e-6,367],"nice":false},"axis":{"values":[1e-5,1e-4,1e-3,1e-2,1e-1,1,10,100],"labelExpr":"'10' + ['⁻⁵','⁻⁴','⁻³','⁻²','⁻¹','⁰','¹','²'][round(log(datum.value)/LN10)+5]","title":"Density","titlePadding":2.3}},
        "color":{"field":"s","type":"nominal","scale":{"domain":["20% Noise","20% Noise Filter","80% Noise","80% Noise Filter"],"range":["#800080","#800080","#0000ff","#0000ff"]},
         "legend":{"legendX":124,"legendY":3.3,"symbolType":"M-2.883,-1H2.883V1H-2.883Z","symbolSize":36,"symbolStrokeWidth":1,"symbolOffset":2.4,"labelOffset":10,"labelFontSize":8,"rowPadding":3.4,"padding":3}}
       }
      },
      {
       "data":{"name":"dt"},
       "mark":{"type":"bar","opacity":0.3,"binSpacing":0,"clip":true},
       "encoding":{
        "x":{"field":"b","type":"quantitative","bin":{"binned":true}},
        "x2":{"field":"e"},
        "y":{"field":"d","type":"quantitative","stack":null},
        "color":{"field":"s","type":"nominal"}
       }
      },
      {
       "data":{"name":"dr"},
       "mark":{"type":"rule","opacity":0.8,"strokeDash":[3.2,1.4],"strokeWidth":1,"clip":true},
       "encoding":{
        "x":{"field":"x","type":"quantitative"},
        "y":{"field":"hi","type":"quantitative"},
        "y2":{"datum":3.98e-6},
        "color":{"field":"s","type":"nominal"}
       }
      }
     ],
     "title":{"text":"(d)\u00a0 Adaptive Filter","orient":"bottom","anchor":"middle","frame":"group","baseline":"alphabetic","offset":31,"dx":-17.6}
    }
   ],
   "spacing":0,"bounds":"flush",
   "resolve":{"scale":{"color":"independent"},"legend":{"color":"independent"}}
  }
 ],
 "spacing":103.3,"bounds":"flush",
 "resolve":{"scale":{"color":"independent"},"legend":{"color":"independent"}}
}
]
}
